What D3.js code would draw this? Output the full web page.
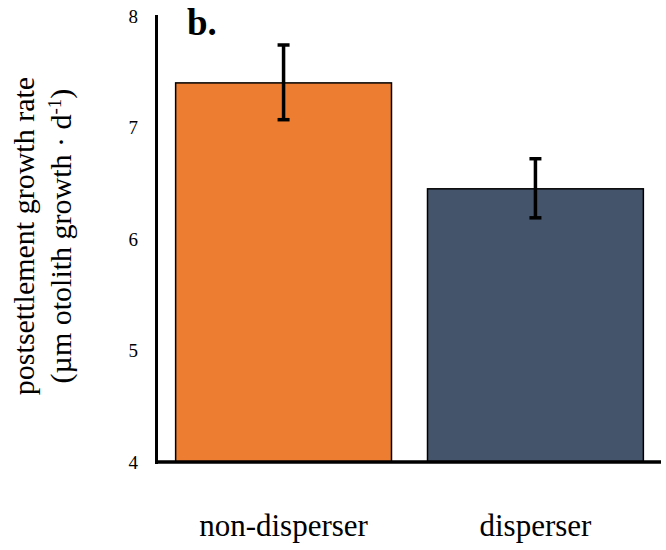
<!DOCTYPE html>
<html>
<head>
<meta charset="utf-8">
<script src="https://cdn.jsdelivr.net/npm/d3@7"></script>
<style>
  body { margin: 0; background: #fff; }
  svg text { font-family: "Liberation Serif", "Times New Roman", serif; fill: #000; }
</style>
</head>
<body>
<div id="chart"></div>
<script>
// values
var groups = ["non-disperser", "disperser"];
var means = [7.40, 6.45];
var errLow = [7.07, 6.19];
var errHigh = [7.74, 6.72];
var yTicks = [4, 5, 6, 7, 8];
var colors = ["#ED7D31", "#44546A"];

var W = 666, H = 550;
var svg = d3.select("#chart").append("svg").attr("width", W).attr("height", H);

var x = d3.scaleBand().domain(groups).range([157, 662]).paddingInner(0.143).paddingOuter(0.074);
var y = d3.scaleLinear().domain([4, 8]).range([462, 16]);

// bars
svg.selectAll("rect.bar").data(groups).enter().append("rect")
  .attr("class", "bar")
  .attr("x", function (d) { return x(d); })
  .attr("width", x.bandwidth())
  .attr("y", function (d, i) { return y(means[i]); })
  .attr("height", function (d, i) { return y(4) - y(means[i]); })
  .attr("fill", function (d, i) { return colors[i]; })
  .attr("stroke", "#000").attr("stroke-width", 1.5);

// error bars
var eb = svg.selectAll("g.err").data(groups).enter().append("g").attr("class", "err")
  .attr("transform", function (d) { return "translate(" + (x(d) + x.bandwidth() / 2) + ",0)"; });
eb.append("line").attr("x1", 0).attr("x2", 0)
  .attr("y1", function (d, i) { return y(errHigh[i]); })
  .attr("y2", function (d, i) { return y(errLow[i]); })
  .attr("stroke", "#000").attr("stroke-width", 3.5);
[errHigh, errLow].forEach(function (arr) {
  eb.append("line").attr("x1", -6).attr("x2", 6)
    .attr("y1", function (d, i) { return y(arr[i]); })
    .attr("y2", function (d, i) { return y(arr[i]); })
    .attr("stroke", "#000").attr("stroke-width", 3.5);
});

// y axis (labels only, no tick marks)
var yAxis = svg.append("g").attr("transform", "translate(138,0)")
  .call(d3.axisLeft(y).tickValues(yTicks).tickSize(0).tickPadding(0).tickFormat(d3.format("d")));
yAxis.select(".domain").remove();
yAxis.selectAll("text").style("font-family", "'Liberation Serif', serif").style("font-size", "19px").attr("fill", "#000");

// axis lines
svg.append("line").attr("x1", 156.5).attr("x2", 156.5).attr("y1", y(8) - 1).attr("y2", y(4) + 2)
  .attr("stroke", "#000").attr("stroke-width", 3);
svg.append("line").attr("x1", 155).attr("x2", 661).attr("y1", y(4)).attr("y2", y(4))
  .attr("stroke", "#000").attr("stroke-width", 3.5);

// category labels
svg.selectAll("text.cat").data(groups).enter().append("text")
  .attr("class", "cat")
  .attr("x", function (d) { return x(d) + x.bandwidth() / 2; })
  .attr("y", 536)
  .attr("text-anchor", "middle")
  .style("font-size", "31px")
  .text(function (d) { return d; });

// panel label
svg.append("text").attr("x", 187).attr("y", 35)
  .style("font-size", "37px").style("font-weight", "bold").text("b.");

// y title
var yt = svg.append("g").attr("transform", "translate(0," + 236 + ") rotate(-90)");
yt.append("text").attr("x", 0).attr("y", 34).attr("text-anchor", "middle")
  .style("font-size", "30px").text("postsettlement growth rate");
var l2 = yt.append("text").attr("x", 0).attr("y", 71).attr("text-anchor", "middle")
  .style("font-size", "30px");
l2.append("tspan").text("(µm otolith growth · d");
l2.append("tspan").attr("baseline-shift", "super").style("font-size", "19px").text("-1");
l2.append("tspan").text(")");
</script>
</body>
</html>
